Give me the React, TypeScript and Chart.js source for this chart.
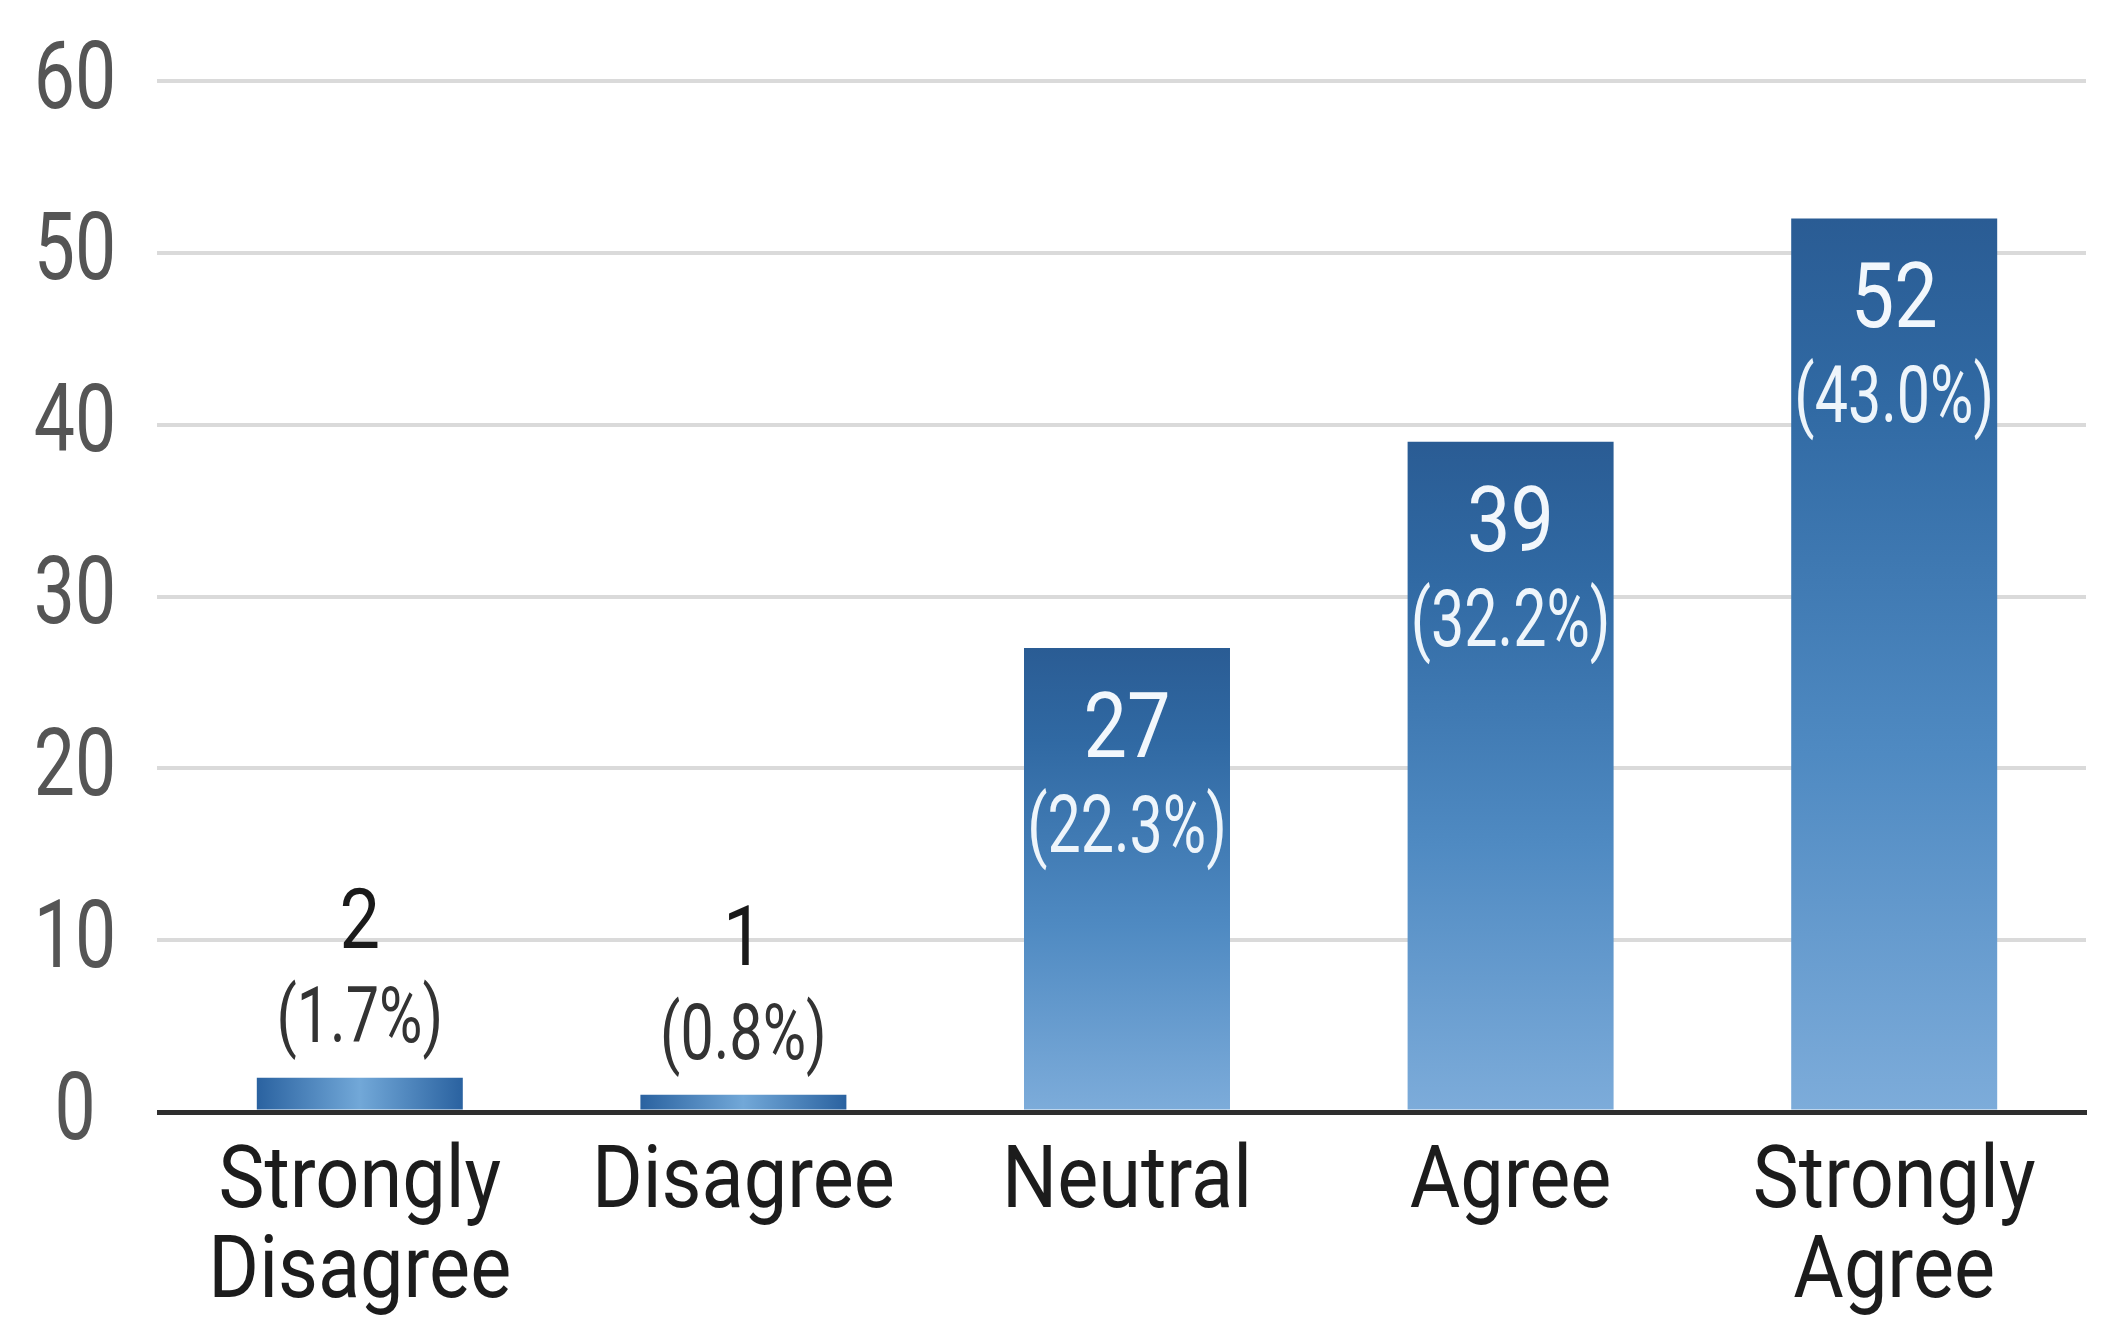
import React, { useEffect, useRef } from 'react';
import { Chart, registerables } from 'chart.js';

Chart.register(...registerables);

// ---- Data ----
const categoryLines: string[][] = [
  ['Strongly', 'Disagree'],
  ['Disagree'],
  ['Neutral'],
  ['Agree'],
  ['Strongly', 'Agree'],
];
const counts: number[] = [2, 1, 27, 39, 52];
const percents: number[] = [1.7, 0.8, 22.3, 32.2, 43.0];
const yTickValues: number[] = [0, 10, 20, 30, 40, 50, 60];

const W = 2113;
const H = 1335;
const BAR_PCT = 0.537;
const FONT = 'Roboto, "Noto Sans", sans-serif';

function drawText(
  ctx: CanvasRenderingContext2D,
  text: string,
  x: number,
  y: number,
  size: number,
  sx: number,
  color: string,
  baseline: CanvasTextBaseline = 'alphabetic'
) {
  ctx.save();
  ctx.font = `400 ${size}px ${FONT}`;
  ctx.fillStyle = color;
  ctx.textAlign = 'center';
  ctx.textBaseline = baseline;
  ctx.translate(x, y);
  ctx.scale(sx, 1);
  ctx.fillText(text, 0, 0);
  ctx.restore();
}

const textPlugin = {
  id: 'customText',
  afterDraw(chart: any) {
    const ctx: CanvasRenderingContext2D = chart.ctx;
    const ys = chart.scales.y;
    const xs = chart.scales.x;
    const bottom = ys.getPixelForValue(0);

    // y tick labels
    yTickValues.forEach((v) => {
      drawText(ctx, String(v), 75, ys.getPixelForValue(v) + 3, 94, 0.78, '#555555', 'middle');
    });

    // x tick labels
    categoryLines.forEach((lines, i) => {
      const cx = xs.getPixelForValue(i);
      lines.forEach((line, j) => {
        drawText(ctx, line, cx, bottom + 95 + j * 90, 88, 0.88, '#1c1c1c');
      });
    });

    // data labels
    counts.forEach((v, i) => {
      const cx = xs.getPixelForValue(i);
      const top = ys.getPixelForValue(v);
      const pct = `(${percents[i].toFixed(1)}%)`;
      if (v >= 10) {
        drawText(ctx, String(v), cx, top + 109, 90, 0.86, '#f2f7fc');
        drawText(ctx, pct, cx, top + 204, 80, 0.74, '#eef5fb');
      } else {
        drawText(ctx, String(v), cx, top - 130, 84, 0.86, '#1a1a1a');
        drawText(ctx, pct, cx, top - 36, 78, 0.76, '#333333');
      }
    });
  },
};

export default function App() {
  const ref = useRef<HTMLCanvasElement | null>(null);

  useEffect(() => {
    document.body.style.margin = '0';
    const canvas = ref.current;
    if (!canvas) return;

    const chart = new Chart(canvas, {
      type: 'bar',
      data: {
        labels: categoryLines.map((l) => l.join(' ')),
        datasets: [
          {
            data: counts,
            barPercentage: BAR_PCT,
            categoryPercentage: 1,
            borderWidth: 0,
            backgroundColor: (c: any) => {
              const chart = c.chart;
              const ys = chart.scales?.y;
              const xs = chart.scales?.x;
              if (!ys || !xs || c.type !== 'data' || !chart.chartArea) return '#3f7cb8';
              const v = c.raw as number;
              const top = ys.getPixelForValue(v);
              const base = ys.getPixelForValue(0);
              const cctx: CanvasRenderingContext2D = chart.ctx;
              if (base - top < 60) {
                const cx = xs.getPixelForValue(c.dataIndex);
                const half = (xs.width / counts.length) * BAR_PCT / 2;
                const g = cctx.createLinearGradient(cx - half, 0, cx + half, 0);
                g.addColorStop(0, '#2a62a0');
                g.addColorStop(0.5, '#72a8d8');
                g.addColorStop(1, '#2a62a0');
                return g;
              }
              const g = cctx.createLinearGradient(0, top, 0, base);
              g.addColorStop(0, '#2a5c94');
              g.addColorStop(0.2, '#3069a3');
              g.addColorStop(0.6, '#4f8ac2');
              g.addColorStop(1, '#7dacda');
              return g;
            },
          },
        ],
      },
      options: {
        responsive: false,
        animation: false,
        layout: { padding: { left: 157, right: 27, top: 81, bottom: 223 } },
        plugins: {
          legend: { display: false },
          tooltip: { enabled: false },
        },
        scales: {
          x: {
            z: 1,
            grid: { display: false, drawTicks: false },
            ticks: { display: false },
            border: { display: true, color: '#2e2e2e', width: 5 },
            afterFit: (s: any) => {
              s.height = 0;
            },
          },
          y: {
            min: 0,
            max: 60,
            ticks: { display: false, stepSize: 10 },
            border: { display: false },
            grid: {
              drawTicks: true,
              tickLength: 11,
              lineWidth: (c: any) => (c.tick && c.tick.value === 0 ? 5 : 4),
              color: (c: any) => (c.tick && c.tick.value === 0 ? '#2e2e2e' : '#dadada'),
            },
            afterFit: (s: any) => {
              s.width = 11;
            },
          },
        },
      },
      plugins: [textPlugin],
    });

    return () => {
      chart.destroy();
    };
  }, []);

  return <canvas ref={ref} width={W} height={H} style={{ display: 'block' }} />;
}
